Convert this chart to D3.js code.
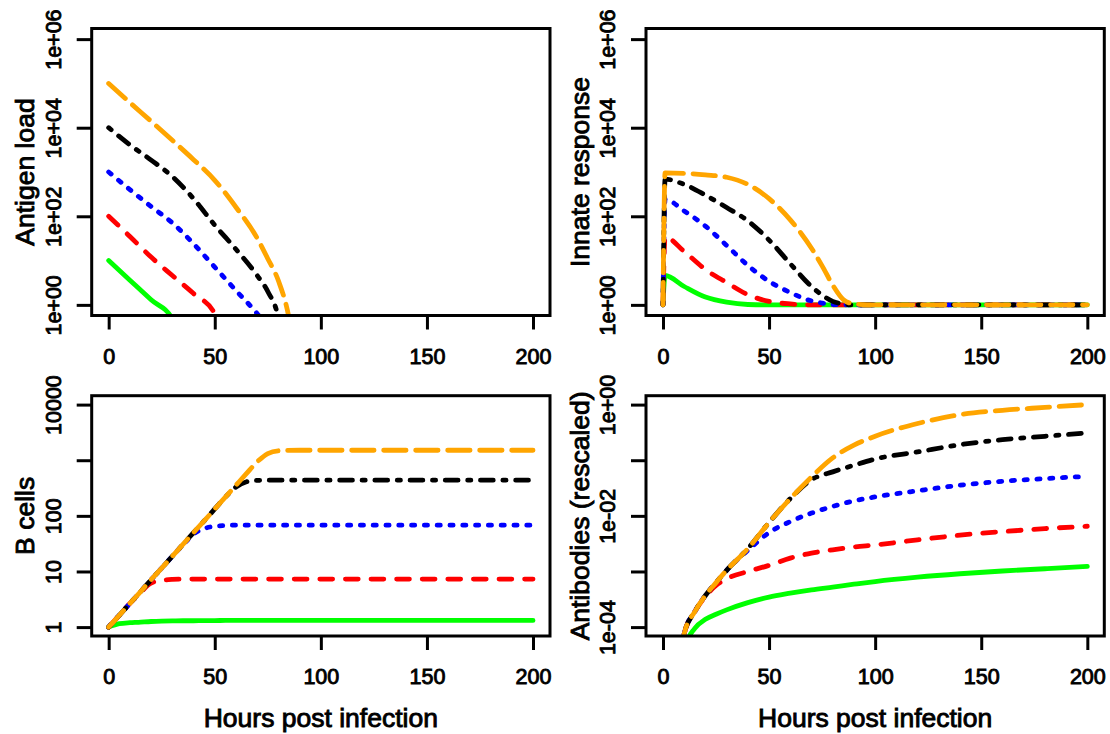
<!DOCTYPE html>
<html><head><meta charset="utf-8">
<script src="https://cdn.jsdelivr.net/npm/d3@7"></script>
<style>
body{margin:0;background:#fff}
svg{display:block}
text{font-family:"Liberation Sans",Arial,Helvetica,sans-serif;fill:#000}
</style>
</head><body>
<svg id="chart" width="1110" height="734"></svg>
<script>
// ---------- DATA ----------
const seriesNames  = ["dose1","dose2","dose3","dose4","dose5"];
const seriesColors = ["#00ff00","#ff0000","#0000ff","#000000","#ffa500"];
const xTickValues  = [0,50,100,150,200];
const xTitle = "Hours post infection";

// Antigen load
const hoursAntigen   = [0,10,20,30,40,50,60,70,75,80,85,90];
const antigenGreen   = [10,3.6,1.3,0.48,0.01,null,null,null,null,null,null,null];
const antigenRed     = [100,35,12,4.6,1.8,0.63,0.01,null,null,null,null,null];
const antigenBlue    = [1000,400,166,71,24,7.1,2.1,0.63,0.3,0.01,null,null];
const antigenBlack   = [10000,4100,1860,790,250,63,18,4.6,2,0.5,0.01,null];
const antigenOrange  = [100000,37000,14000,5200,1900,650,160,32,11,3.5,0.5,0.01];
const antigenTicks   = [1,1e2,1e4,1e6];
const antigenLabels  = ["1e+00","1e+02","1e+04","1e+06"];

// Innate response
const hoursInnate    = [0,1,10,20,30,40,50,60,70,75,80,85,90,100,150,200];
const innateGreen    = [1,4.6,2.6,1.5,1.15,1.02,1,1,1,1,1,1,1,1,1,1];
const innateRed      = [1,34,16,6.3,3.2,1.7,1.2,1.05,1,1,1,1,1,1,1,1];
const innateBlue     = [1,240,132,60,22,7.8,3.4,1.9,1.23,1.1,1.02,1,1,1,1,1];
const innateBlack    = [1,690,525,300,158,79,29,8.5,2.6,1.66,1.2,1.05,1,1,1,1];
const innateOrange   = [1,955,933,860,760,525,250,83,19,7.6,2.8,1.32,1.05,1,1,1];
const innateTicks    = [1,1e2,1e4,1e6];
const innateLabels   = ["1e+00","1e+02","1e+04","1e+06"];

// B cells
const hoursB   = [0,5,10,14,20,25,30,35,40,45,50,55,60,65,70,75,80,90,100,150,200];
const bGreen   = [1,1.15,1.2,1.22,1.26,1.28,1.29,1.3,1.3,1.31,1.31,1.32,1.32,1.32,1.32,1.32,1.32,1.32,1.32,1.32,1.32];
const bRed     = [1,1.63,2.66,3.8,6.2,6.9,7.2,7.3,7.3,7.3,7.3,7.3,7.3,7.3,7.3,7.3,7.3,7.3,7.3,7.3,7.3];
const bBlue    = [1,1.63,2.66,3.9,7.1,11.5,18.8,30,47,59,65,67,68,68,68,68,68,68,68,68,68];
const bBlack   = [1,1.63,2.66,3.9,7.1,11.5,18.8,30.6,50,81,133,217,330,410,435,437,437,437,437,437,437];
const bOrange  = [1,1.63,2.66,3.9,7.1,11.5,18.8,30.6,50,81,133,217,355,580,935,1320,1480,1510,1510,1510,1510];
const bTicks   = [1,10,100,1000,10000];
const bLabels  = ["1","10","100","","10000"];

// Antibodies (rescaled)
const hoursAb  = [5,10,15,20,25,30,40,50,60,70,80,90,100,120,140,160,180,200];
const abGreen  = [1e-6,4e-5,9.5e-5,1.38e-4,1.7e-4,2.04e-4,2.75e-4,3.47e-4,4.07e-4,4.68e-4,5.25e-4,5.9e-4,6.6e-4,7.9e-4,9.1e-4,1.02e-3,1.12e-3,1.23e-3];
const abRed    = [3.2e-6,7.6e-5,1.9e-4,3.55e-4,5.6e-4,7.4e-4,1.0e-3,1.29e-3,1.74e-3,2.14e-3,2.45e-3,2.75e-3,3.0e-3,3.7e-3,4.5e-3,5.2e-3,5.9e-3,6.5e-3];
const abBlue   = [3.2e-6,7.6e-5,1.9e-4,3.7e-4,6.3e-4,1.05e-3,2.4e-3,5.0e-3,7.9e-3,0.0112,0.0148,0.0186,0.0219,0.0282,0.0355,0.0417,0.0468,0.0513];
const abBlack  = [3.2e-6,7.6e-5,1.9e-4,3.7e-4,6.3e-4,1.05e-3,2.57e-3,7.6e-3,0.0204,0.0447,0.0617,0.0813,0.105,0.141,0.19,0.234,0.269,0.309];
const abOrange = [3.2e-6,7.6e-5,1.9e-4,3.7e-4,6.3e-4,1.05e-3,2.57e-3,7.6e-3,0.0204,0.05,0.11,0.186,0.27,0.457,0.66,0.79,0.89,1.0];
const abTicks  = [1e-4,1e-3,1e-2,1e-1,1];
const abLabels = ["1e-04","","1e-02","","1e+00"];

// ---------- DRAW ----------
const svg = d3.select("#chart");
const u = 3.2; // R lty unit
const dashes = [null, [4*u,4*u], [1*u,3*u], [1*u,3*u,4*u,3*u], [7*u,3*u]];
const lineW = 4.8;
const tickFont = 21.5, titleFont = 26.5, textStroke = 0.9;

function panel(o){
  const g = svg.append("g");
  const x = d3.scaleLinear().domain([-8,208]).range([o.x0,o.x1]);
  const y = d3.scaleLog().domain(o.yDomain).range([o.y1,o.y0]);
  const cid = "clip"+o.id;
  svg.append("clipPath").attr("id",cid).append("rect")
    .attr("x",o.x0).attr("y",o.y0).attr("width",o.x1-o.x0).attr("height",o.y1-o.y0);
  const lines = g.append("g").attr("clip-path",`url(#${cid})`);
  o.series.forEach((vals,i)=>{
    const pts = o.hours.map((h,k)=>[h,vals[k]]);
    const line = d3.line().defined(d=>d[1]!=null).x(d=>x(d[0])).y(d=>y(d[1])).curve(d3.curveMonotoneX);
    lines.append("path").attr("d",line(pts)).attr("fill","none")
      .attr("stroke",seriesColors[i]).attr("stroke-width",lineW)
      .attr("stroke-linecap","round").attr("stroke-linejoin","round")
      .attr("stroke-dasharray",dashes[i]?dashes[i].join(","):null);
  });
  // box
  g.append("rect").attr("x",o.x0).attr("y",o.y0).attr("width",o.x1-o.x0).attr("height",o.y1-o.y0)
    .attr("fill","none").attr("stroke","#000").attr("stroke-width",3);
  // x axis
  const xa = g.append("g").attr("transform",`translate(0,${o.y1})`)
    .call(d3.axisBottom(x).tickValues(xTickValues).tickSize(14).tickSizeOuter(0).tickFormat(d3.format("d")));
  xa.select(".domain").remove();
  xa.selectAll("line").attr("stroke","#000").attr("stroke-width",3);
  xa.selectAll("text").attr("font-size",tickFont).attr("font-family",null).attr("fill","#000")
    .attr("stroke","#000").attr("stroke-width",textStroke).attr("dy",null).attr("y",48);
  // y axis
  const ya = g.append("g").attr("transform",`translate(${o.x0},0)`)
    .call(d3.axisLeft(y).tickValues(o.ticks).tickSize(15).tickSizeOuter(0).tickFormat((d,i)=>o.labels[i]));
  ya.select(".domain").remove();
  ya.selectAll("line").attr("stroke","#000").attr("stroke-width",3);
  ya.selectAll("text").attr("font-size",tickFont).attr("font-family",null).attr("fill","#000")
    .attr("stroke","#000").attr("stroke-width",textStroke)
    .attr("x",null).attr("dy",null).attr("text-anchor","middle")
    .attr("transform","translate(-30.7,0) rotate(-90)").attr("y",0);
  // y title
  g.append("text").attr("transform",`translate(${o.x0-57.5},${(o.y0+o.y1)/2}) rotate(-90)`)
    .attr("text-anchor","middle").attr("font-size",titleFont)
    .attr("stroke","#000").attr("stroke-width",textStroke).text(o.yTitle);
  if(o.xTitle){
    g.append("text").attr("x",(o.x0+o.x1)/2).attr("y",o.y1+91).attr("text-anchor","middle")
      .attr("font-size",titleFont).attr("stroke","#000").attr("stroke-width",textStroke).text(o.xTitle);
  }
}

const dec = (lo,hi)=>{const r=hi-lo;return [Math.pow(10,lo-0.04*r),Math.pow(10,hi+0.04*r)];};

panel({id:1,x0:91.7,x1:550,y0:28.5,y1:315.5,yDomain:dec(0,6),hours:hoursAntigen,
  series:[antigenGreen,antigenRed,antigenBlue,antigenBlack,antigenOrange],
  ticks:antigenTicks,labels:antigenLabels,yTitle:"Antigen load"});
panel({id:2,x0:646,x1:1104.3,y0:28.5,y1:315.5,yDomain:dec(0,6),hours:hoursInnate,
  series:[innateGreen,innateRed,innateBlue,innateBlack,innateOrange],
  ticks:innateTicks,labels:innateLabels,yTitle:"Innate response"});
panel({id:3,x0:91.7,x1:550,y0:395.7,y1:636,yDomain:dec(0,4),hours:hoursB,
  series:[bGreen,bRed,bBlue,bBlack,bOrange],
  ticks:bTicks,labels:bLabels,yTitle:"B cells",xTitle:xTitle});
panel({id:4,x0:646,x1:1104.3,y0:395.7,y1:636,yDomain:dec(-4,0),hours:hoursAb,
  series:[abGreen,abRed,abBlue,abBlack,abOrange],
  ticks:abTicks,labels:abLabels,yTitle:"Antibodies (rescaled)",xTitle:xTitle});
</script>
</body></html>
